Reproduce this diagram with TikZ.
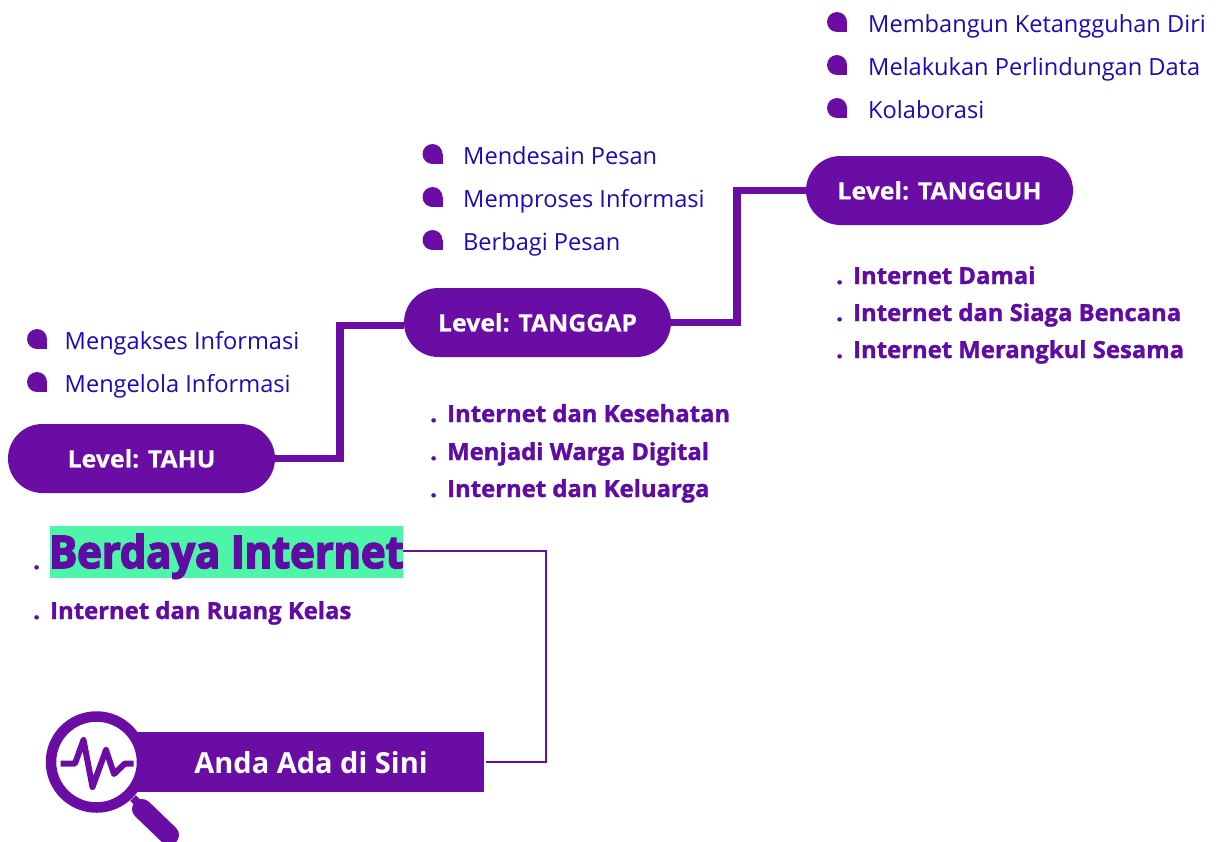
\documentclass[tikz,border=0pt]{standalone}
\usepackage{fontspec}
\setmainfont{Open Sans}
\newfontfamily\heavyf{Open Sans}[BoldFeatures={FakeBold=3.5,FakeStretch=0.925}]
\newfontfamily\xbold{Open Sans}[BoldFeatures={FakeBold=1.4,FakeStretch=1.015}]
\newfontfamily\pillf{Open Sans}[BoldFeatures={FakeBold=0.3,FakeStretch=1.035}]
\usetikzlibrary{shapes.misc}
\definecolor{pur}{HTML}{6A0DA5}
\definecolor{purtext}{HTML}{600BA3}
\definecolor{blu}{HTML}{1C0AB8}
\definecolor{grn}{HTML}{4CF5A8}
\tikzset{
 x=1pt,y=-1pt,
 pill/.style={rounded rectangle,fill=pur,text=white,minimum width=267pt,minimum height=69pt,inner sep=0pt,font=\fontsize{24}{26}\selectfont\pillf\bfseries},
 itemtext/.style={anchor=base west,inner sep=0pt,text=blu,font=\fontsize{23.6}{26}\selectfont},
 topic/.style={anchor=base west,inner sep=0pt,text=purtext,font=\fontsize{23.5}{26}\selectfont\xbold\bfseries},
 thick link/.style={draw=pur,line width=7.5pt,miter limit=10},
 thin link/.style={draw=pur,line width=2.5pt},
}
\begin{document}
\begin{tikzpicture}
\useasboundingbox (0,0) rectangle (1223,841);
% pills
\node[pill] (tahu) at (141.5,458.5) {Level: TAHU};
\node[pill] (tanggap) at (537.5,322.5) {Level: TANGGAP};
\node[pill] (tangguh) at (939.5,190.5) {Level: TANGGUH};
% connectors
\coordinate (a1) at (340,458.5);
\coordinate (a2) at (340,325.5);
\coordinate (b1) at (737,322.5);
\coordinate (b2) at (737,190.5);
\draw[thick link] (tahu.east) -- (a1) -- (a2) -- (tanggap.west |- a2);
\draw[thick link] (tanggap.east) -- (b1) -- (b2) -- (tangguh.west);
% bullets
\foreach \p/\q in {37/339,37/382,432.5/154,432.5/197,432.5/240,837/22,837/65,837/108}{
 \fill[pur] (\p,\q) circle[radius=10];
 \fill[pur] (\p,\q) rectangle (\p+10,\q+10);
}
% lists
\node[itemtext] (t1) at (64.5,349) {Mengakses Informasi};
\node[itemtext] (t2) at (64.5,392) {Mengelola Informasi};
\node[itemtext] (t3) at (463,164) {Mendesain Pesan};
\node[itemtext] (t4) at (463,207) {Memproses Informasi};
\node[itemtext] (t5) at (463,250) {Berbagi Pesan};
\node[itemtext] (t6) at (868,32) {Membangun Ketangguhan Diri};
\node[itemtext] (t7) at (868,75) {Melakukan Perlindungan Data};
\node[itemtext] (t8) at (868,118) {Kolaborasi};
% topics
\node[topic] (d1) at (836,284) {.};
\node[topic] (d2) at (836,321) {.};
\node[topic] (d3) at (836,358) {.};
\node[topic] (u1) at (853,284) {Internet Damai};
\node[topic] (u2) at (853,321) {Internet dan Siaga Bencana};
\node[topic] (u3) at (853,358) {Internet Merangkul Sesama};
\node[topic] (d4) at (430,422) {.};
\node[topic] (d5) at (430,460) {.};
\node[topic] (d6) at (430,497) {.};
\node[topic] (v1) at (447,422) {Internet dan Kesehatan};
\node[topic] (v2) at (447,460) {Menjadi Warga Digital};
\node[topic] (v3) at (447,497) {Internet dan Keluarga};
\node[topic] (d7) at (33,569) {.};
\node[topic] (d8) at (33,619) {.};
\node[topic] (w1) at (50,619) {Internet dan Ruang Kelas};
% highlighted title
\node[fill=grn,minimum width=353pt,minimum height=52pt,inner sep=0pt] (bi) at (226.5,552) {};
\node[anchor=base,inner sep=0pt,text=purtext,font=\fontsize{45}{50}\selectfont\heavyf\bfseries] (bit) at (226.5,568) {Berdaya Internet};
% banner
\node[fill=pur,minimum width=354pt,minimum height=60pt,inner sep=0pt] (ban) at (307,762) {};
\node[text=white,inner sep=0pt,font=\fontsize{29}{32}\selectfont\bfseries] (bant) at (311,763) {Anda Ada di Sini};
\coordinate (c1) at (546,551);
\coordinate (c2) at (546,762);
\coordinate (c3) at (486,762);
\draw[thin link] (bi.east |- c1) -- (c1) -- (c2) -- (c3);
% magnifier
\draw[pur,line width=8pt] (133,798) -- (146,811);
\draw[pur,line width=20pt,line cap=round] (142,809) -- (169,835);
\fill[white] (96.5,762) circle[radius=46];
\draw[pur,line width=10.5pt] (96.5,762) circle[radius=45.5];
\draw[pur,line width=6pt,line join=round] (60.5,763.5) -- (75,763.5) -- (83.5,740) -- (92.5,787) -- (106,750) -- (114,774) -- (125,763.5) -- (133.5,763.5);
\end{tikzpicture}
\end{document}
